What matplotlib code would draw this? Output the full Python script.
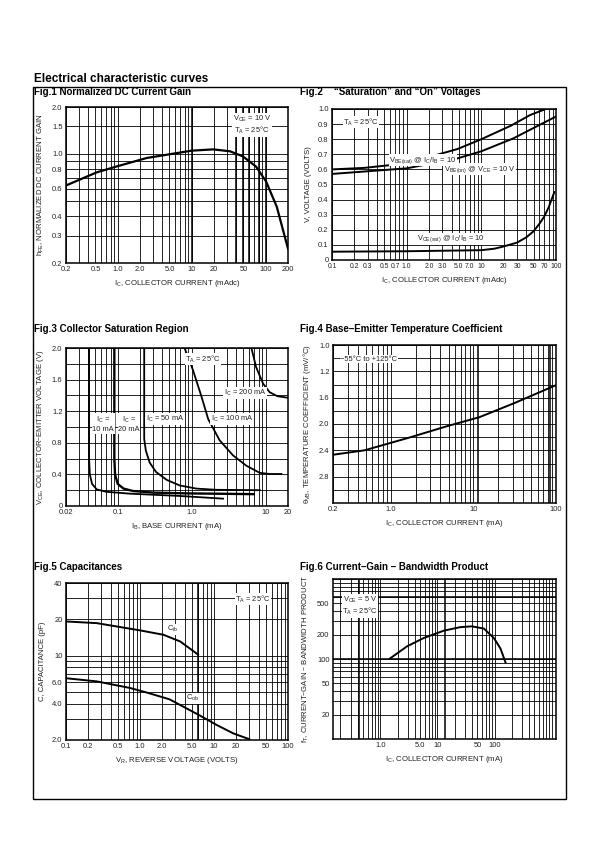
import numpy as np
import matplotlib
matplotlib.use("Agg")
import matplotlib.pyplot as plt
from matplotlib.ticker import NullFormatter
from matplotlib.patches import Rectangle

plt.rcParams["font.family"] = ["Liberation Sans", "DejaVu Sans"]
plt.rcParams["mathtext.default"] = "regular"

W, H = 595, 842

# Fig.1 normalized DC current gain
gain_ic = [0.2, 0.52, 0.97, 2.46, 10, 19.6, 32.9, 49, 74, 101, 141, 200]
gain_hfe = [0.628, 0.762, 0.832, 0.942, 1.05, 1.07, 1.04, 0.966, 0.83, 0.667, 0.459, 0.247]

# Fig.2 saturation and on voltages
vbe_sat_ic = [0.1, 0.27, 1, 4.8, 10, 25, 45, 73]
vbe_sat = [0.60, 0.61, 0.64, 0.735, 0.80, 0.89, 0.96, 1.0]
vbe_on_ic = [0.1, 1, 4.8, 10, 27, 46, 100]
vbe_on = [0.57, 0.607, 0.673, 0.72, 0.806, 0.865, 0.95]
vce_sat_ic = [0.1, 1, 10, 15, 20, 30, 40, 50, 60, 70, 80, 95]
vce_sat = [0.055, 0.058, 0.065, 0.075, 0.09, 0.115, 0.15, 0.19, 0.24, 0.29, 0.35, 0.45]

# Fig.3 collector saturation region (IB in mA, VCE in V)
sat_10_ib = [0.041, 0.041, 0.042, 0.045, 0.052, 0.07, 0.147, 0.69, 2.65]
sat_10_vce = [2.0, 0.6, 0.40, 0.28, 0.21, 0.18, 0.156, 0.127, 0.093]
sat_20_ib = [0.09, 0.09, 0.092, 0.1, 0.12, 0.16, 0.3, 0.8, 2.5, 6.9]
sat_20_vce = [2.0, 0.6, 0.40, 0.28, 0.22, 0.19, 0.17, 0.16, 0.155, 0.15]
sat_50_ib = [0.228, 0.228, 0.24, 0.27, 0.33, 0.46, 0.69, 1.16, 2.16, 8.3]
sat_50_vce = [2.0, 0.85, 0.7, 0.55, 0.43, 0.33, 0.26, 0.22, 0.205, 0.2]
sat_100_ib = [0.80, 1.04, 1.36, 1.67, 2.39, 3.62, 5.48, 8.3, 11.3, 16.3]
sat_100_vce = [2.0, 1.72, 1.38, 1.10, 0.83, 0.64, 0.51, 0.42, 0.405, 0.405]
sat_200_ib = [6.41, 7.4, 9.2, 11.3, 14.4, 20]
sat_200_vce = [2.0, 1.76, 1.55, 1.44, 1.39, 1.37]

# Fig.4 base-emitter temperature coefficient
tc_ic = [0.2, 0.48, 1.69, 4.9, 11.8, 31.4, 100]
tc_vb = [2.467, 2.4, 2.205, 2.03, 1.897, 1.682, 1.41]
tc_ticks = [0.8, 1.2, 1.6, 2.0, 2.4, 2.8]
tc_labels = ["1.0", "1.2", "1.6", "2.0", "2.4", "2.8"]

# Fig.5 capacitances
cib_vr = [0.1, 0.26, 1.0, 2.07, 3.5, 6.1]
cib_pf = [19.2, 18.6, 16.2, 14.9, 13.1, 10.2]
cob_vr = [0.1, 0.26, 0.73, 1.23, 2.5, 6.1, 10.8, 18.2, 30]
cob_pf = [6.5, 6.12, 5.4, 4.95, 4.35, 3.25, 2.67, 2.27, 2.03]

# Fig.6 current-gain bandwidth product
ft_ic = [1.46, 2.93, 5.76, 12.9, 25, 40, 65, 97, 127, 155]
ft_mhz = [101, 144, 183, 226, 250, 256, 240, 183, 135, 91]

TICK_FS = 5.4
LABEL_FS = 5.6


def add_axes(fig, left, top, right, bottom):
    return fig.add_axes([left / W, 1 - bottom / H, (right - left) / W, (bottom - top) / H])


def log_minors(lo, hi):
    vals = np.concatenate([np.arange(1, 10) * 10.0 ** k for k in range(-3, 4)])
    return vals[(vals >= lo * 0.999) & (vals <= hi * 1.001)]


def style(ax):
    ax.tick_params(which="both", length=0, labelsize=TICK_FS, pad=2.5, colors="#222222")
    for s in ax.spines.values():
        s.set_linewidth(1.1)
    ax.grid(which="both", color="black", linewidth=0.6)
    ax.set_axisbelow(True)
    ax.xaxis.set_minor_formatter(NullFormatter())
    ax.yaxis.set_minor_formatter(NullFormatter())


def tag(ax, x, y, s, box=True, **kw):
    bbox = dict(facecolor="white", edgecolor="none", pad=0.5) if box else None
    ax.text(x, y, s, transform=ax.transAxes, fontsize=TICK_FS, ha="center", va="center",
            bbox=bbox, color="#222222", **kw)


def labels(ax, xl, yl):
    ax.set_xlabel(xl, fontsize=LABEL_FS, labelpad=3, color="#222222")
    ax.set_ylabel(yl, fontsize=LABEL_FS, labelpad=4, color="#222222")


fig = plt.figure(figsize=(W / 100, H / 100), dpi=100)

fig.text(34 / W, 1 - 82.5 / H, "Electrical characteristic curves", fontsize=8.5,
         fontweight="bold", va="baseline")
fig.patches.append(Rectangle((33 / W, 1 - 799 / H), 533 / W, 712 / H, transform=fig.transFigure,
                             fill=False, edgecolor="black", linewidth=1.0))
for x, y, s in [(34, 95, "Fig.1 Normalized DC Current Gain"),
                (300, 95, "Fig.2    \u201cSaturation\u201d and \u201cOn\u201d Voltages"),
                (34, 332, "Fig.3 Collector Saturation Region"),
                (300, 332, "Fig.4 Base\u2013Emitter Temperature Coefficient"),
                (34, 570, "Fig.5 Capacitances"),
                (300, 570, "Fig.6 Current\u2013Gain \u2013 Bandwidth Product")]:
    fig.text(x / W, 1 - y / H, s, fontsize=7.0, fontweight="bold", va="baseline")

# ---- Fig.1
ax = add_axes(fig, 66, 107, 288, 263)
ax.set_xscale("log")
ax.set_yscale("log")
ax.set_xlim(0.2, 200)
ax.set_ylim(0.2, 2.0)
ax.set_xticks([0.2, 0.5, 1, 2, 5, 10, 20, 50, 100, 200],
              ["0.2", "0.5", "1.0", "2.0", "5.0", "10", "20", "50", "100", "200"])
ax.set_xticks(log_minors(0.2, 200), minor=True)
ax.set_yticks([0.2, 0.3, 0.4, 0.6, 0.8, 1.0, 1.5, 2.0],
              ["0.2", "0.3", "0.4", "0.6", "0.8", "1.0", "1.5", "2.0"])
ax.set_yticks(log_minors(0.2, 2.0), minor=True)
style(ax)
for v in [10, 40, 50, 60, 80, 100]:
    ax.axvline(v, color="black", lw=1.1, zorder=1)
ax.plot(gain_ic, gain_hfe, color="black", lw=1.6, zorder=4)
tag(ax, 0.838, 0.885, "V$_{CE}$ = 10 V\nT$_A$ = 25\u00b0C", linespacing=1.1)
labels(ax, "I$_C$, COLLECTOR CURRENT (mAdc)", "h$_{FE}$, NORMALIZED DC CURRENT GAIN")

# ---- Fig.2
ax = add_axes(fig, 332, 109, 556, 260)
ax.set_xscale("log")
ax.set_xlim(0.1, 100)
ax.set_ylim(0, 1.0)
ax.set_xticks([0.1, 0.2, 0.3, 0.5, 0.7, 1, 2, 3, 5, 7, 10, 20, 30, 50, 70, 100],
              ["0.1", "0.2", "0.3", "0.5", "0.7", "1.0", "2.0", "3.0", "5.0", "7.0",
               "10", "20", "30", "50", "70", "100"])
ax.set_xticks(log_minors(0.1, 100), minor=True)
ax.set_yticks(np.round(np.arange(0, 1.01, 0.1), 1),
              ["0", "0.1", "0.2", "0.3", "0.4", "0.5", "0.6", "0.7", "0.8", "0.9", "1.0"])
style(ax)
ax.tick_params(axis="x", labelsize=4.9)
ax.plot(vbe_sat_ic, vbe_sat, color="black", lw=1.4)
ax.plot(vbe_on_ic, vbe_on, color="black", lw=1.4)
ax.plot(vce_sat_ic, vce_sat, color="black", lw=1.4)
tag(ax, 0.13, 0.914, "T$_A$ = 25\u00b0C")
tag(ax, 0.406, 0.66, "V$_{BE(sat)}$ @ I$_C$/I$_B$ = 10")
tag(ax, 0.66, 0.60, "V$_{BE(on)}$ @ V$_{CE}$ = 10 V")
tag(ax, 0.53, 0.14, "V$_{CE(sat)}$ @ I$_C$/I$_B$ = 10")
labels(ax, "I$_C$, COLLECTOR CURRENT (mAdc)", "V, VOLTAGE (VOLTS)")

# ---- Fig.3
ax = add_axes(fig, 66, 348, 288, 506)
ax.set_xscale("log")
ax.set_xlim(0.02, 20)
ax.set_ylim(0, 2.0)
ax.set_xticks([0.02, 0.1, 1, 10, 20], ["0.02", "0.1", "1.0", "10", "20"])
ax.set_xticks(log_minors(0.02, 20), minor=True)
ax.set_yticks([0, 0.4, 0.8, 1.2, 1.6, 2.0], ["0", "0.4", "0.8", "1.2", "1.6", "2.0"])
ax.set_yticks(np.arange(0, 2.01, 0.2), minor=True)
style(ax)
ax.plot(sat_10_ib, sat_10_vce, color="black", lw=1.3)
ax.plot(sat_20_ib, sat_20_vce, color="black", lw=1.7)
ax.plot(sat_50_ib, sat_50_vce, color="black", lw=1.3)
ax.plot(sat_100_ib, sat_100_vce, color="black", lw=1.3)
ax.plot(sat_200_ib, sat_200_vce, color="black", lw=1.3)
tag(ax, 0.617, 0.93, "T$_A$ = 25\u00b0C")
tag(ax, 0.806, 0.715, "I$_C$ = 200 mA")
tag(ax, 0.167, 0.52, "I$_C$ =\n10 mA", linespacing=1.3)
tag(ax, 0.284, 0.52, "I$_C$ =\n20 mA", linespacing=1.3)
tag(ax, 0.446, 0.55, "I$_C$ = 50 mA")
tag(ax, 0.748, 0.55, "I$_C$ = 100 mA")
labels(ax, "I$_B$, BASE CURRENT (mA)", "V$_{CE}$, COLLECTOR\u2013EMITTER VOLTAGE (V)")

# ---- Fig.4
ax = add_axes(fig, 333, 345, 556, 503)
ax.set_xscale("log")
ax.set_xlim(0.2, 100)
ax.set_ylim(3.2, 0.8)
ax.set_xticks([0.2, 1, 10, 100], ["0.2", "1.0", "10", "100"])
ax.set_xticks(log_minors(0.2, 100), minor=True)
ax.set_yticks(tc_ticks, tc_labels)
ax.set_yticks(np.arange(0.8, 3.21, 0.2), minor=True)
style(ax)
for v in [11.4, 84]:
    ax.axvline(v, color="black", lw=1.1, zorder=1)
ax.plot(tc_ic, tc_vb, color="black", lw=1.4)
tag(ax, 0.161, 0.911, "\u221255\u00b0C to +125\u00b0C")
labels(ax, "I$_C$, COLLECTOR CURRENT (mA)", "\u03b8$_{VB}$, TEMPERATURE COEFFICIENT (mV/\u00b0C)")

# ---- Fig.5
ax = add_axes(fig, 66, 583, 288, 740)
ax.set_xscale("log")
ax.set_yscale("log")
ax.set_xlim(0.1, 100)
ax.set_ylim(2.0, 40)
ax.set_xticks([0.1, 0.2, 0.5, 1, 2, 5, 10, 20, 50, 100],
              ["0.1", "0.2", "0.5", "1.0", "2.0", "5.0", "10", "20", "50", "100"])
ax.set_xticks(log_minors(0.1, 100), minor=True)
ax.set_yticks([2, 4, 6, 10, 20, 40], ["2.0", "4.0", "6.0", "10", "20", "40"])
ax.set_yticks(log_minors(2, 40), minor=True)
style(ax)
ax.axvline(6.1, color="black", lw=1.1, zorder=1)
ax.plot(cib_vr, cib_pf, color="black", lw=1.4, zorder=4)
ax.plot(cob_vr, cob_pf, color="black", lw=1.4, zorder=4)
tag(ax, 0.842, 0.898, "T$_A$ = 25\u00b0C")
tag(ax, 0.482, 0.705, "C$_{ib}$")
tag(ax, 0.572, 0.265, "C$_{ob}$")
labels(ax, "V$_R$, REVERSE VOLTAGE (VOLTS)", "C, CAPACITANCE (pF)")

# ---- Fig.6
ax = add_axes(fig, 333, 579, 556, 739)
ax.set_xscale("log")
ax.set_yscale("log")
ax.set_xlim(0.148, 1190)
ax.set_ylim(10, 1000)
ax.set_xticks([1, 5, 10, 50, 100], ["1.0", "5.0", "10", "50", "100"])
ax.set_xticks(log_minors(0.148, 1190), minor=True)
ax.set_yticks([20, 50, 100, 200, 500], ["20", "50", "100", "200", "500"])
ax.set_yticks(log_minors(10, 1000), minor=True)
style(ax)
for v in [0.43, 13.8]:
    ax.axvline(v, color="black", lw=1.1, zorder=1)
for v in [100, 590]:
    ax.axhline(v, color="black", lw=1.1, zorder=1)
ax.plot(ft_ic, ft_mhz, color="black", lw=1.4, zorder=4)
tag(ax, 0.121, 0.831, "V$_{CE}$ = 5 V\nT$_A$ = 25\u00b0C", linespacing=1.1)
labels(ax, "I$_C$, COLLECTOR CURRENT (mA)", "f$_T$, CURRENT\u2013GAIN \u2013 BANDWIDTH PRODUCT")

fig.savefig("out.png", dpi=100)
